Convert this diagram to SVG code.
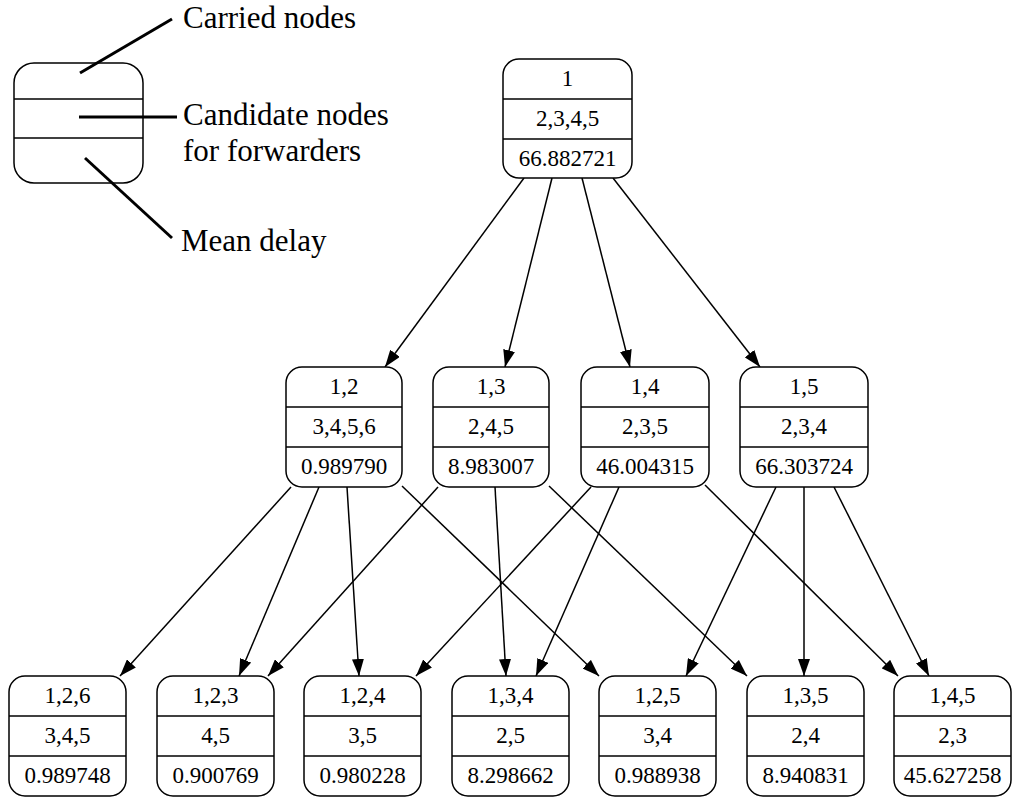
<svg xmlns="http://www.w3.org/2000/svg" width="1013" height="799" viewBox="0 0 1013 799">
<style>
.box{fill:#fff;stroke:#000;stroke-width:1.5}
.div{stroke:#000;stroke-width:1.5}
.t{font-size:23px;text-anchor:middle;fill:#000}
.lt{font-size:31px;fill:#000}
.lead{stroke:#000;stroke-width:3}
.e{stroke:#000;stroke-width:1.5;fill:none;marker-end:url(#ah)}
</style>
<defs>
<marker id="ah" markerUnits="userSpaceOnUse" viewBox="0 0 17 12" refX="17" refY="6" markerWidth="17" markerHeight="12" orient="auto">
<path d="M0,0 L17,6 L0,12 z" fill="#000"/>
</marker>
</defs>
<rect width="1013" height="799" fill="#fff"/>
<g font-family="'Liberation Serif', Tinos, 'Times New Roman', Times, 'DejaVu Serif', serif">
<g id="legend">
<rect class="box" x="14" y="63" width="129" height="120" rx="20"/>
<line class="div" x1="14" y1="99" x2="143" y2="99"/>
<line class="div" x1="14" y1="138" x2="143" y2="138"/>
<line class="lead" x1="80" y1="73" x2="172" y2="19"/>
<line class="lead" x1="79" y1="117" x2="177" y2="117"/>
<line class="lead" x1="85" y1="158" x2="172" y2="238"/>
<text class="lt" x="183" y="28">Carried nodes</text>
<text class="lt" x="183" y="125">Candidate nodes</text>
<text class="lt" x="183" y="161">for forwarders</text>
<text class="lt" x="181" y="251">Mean delay</text>
</g>
<g id="connectors">
<line class="e" x1="524" y1="178" x2="385" y2="367"/>
<line class="e" x1="552" y1="178" x2="505" y2="367"/>
<line class="e" x1="582" y1="178" x2="630" y2="367"/>
<line class="e" x1="613" y1="178" x2="760" y2="367"/>
<line class="e" x1="291" y1="487" x2="120" y2="676"/>
<line class="e" x1="319" y1="487" x2="239" y2="676"/>
<line class="e" x1="347" y1="487" x2="359" y2="676"/>
<line class="e" x1="402" y1="486" x2="599" y2="676"/>
<line class="e" x1="438" y1="487" x2="268" y2="676"/>
<line class="e" x1="495" y1="487" x2="506" y2="676"/>
<line class="e" x1="549" y1="486" x2="747" y2="676"/>
<line class="e" x1="591" y1="487" x2="416" y2="676"/>
<line class="e" x1="619" y1="487" x2="536" y2="676"/>
<line class="e" x1="705" y1="485" x2="898" y2="676"/>
<line class="e" x1="776" y1="487" x2="686" y2="676"/>
<line class="e" x1="804" y1="487" x2="804" y2="676"/>
<line class="e" x1="834" y1="487" x2="929" y2="676"/>
</g>
<g id="n1">
<rect class="box" x="503" y="59" width="129" height="119" rx="16"/>
<line class="div" x1="503" y1="99" x2="632" y2="99"/>
<line class="div" x1="503" y1="139" x2="632" y2="139"/>
<text class="t" x="567.5" y="86">1</text>
<text class="t" x="567.5" y="126">2,3,4,5</text>
<text class="t" x="567.5" y="166">66.882721</text>
</g>
<g id="n12">
<rect class="box" x="286" y="367" width="116" height="120" rx="16"/>
<line class="div" x1="286" y1="407" x2="402" y2="407"/>
<line class="div" x1="286" y1="447" x2="402" y2="447"/>
<text class="t" x="344" y="394">1,2</text>
<text class="t" x="344" y="434">3,4,5,6</text>
<text class="t" x="344" y="474">0.989790</text>
</g>
<g id="n13">
<rect class="box" x="433" y="367" width="116" height="120" rx="16"/>
<line class="div" x1="433" y1="407" x2="549" y2="407"/>
<line class="div" x1="433" y1="447" x2="549" y2="447"/>
<text class="t" x="491" y="394">1,3</text>
<text class="t" x="491" y="434">2,4,5</text>
<text class="t" x="491" y="474">8.983007</text>
</g>
<g id="n14">
<rect class="box" x="581" y="367" width="128" height="120" rx="16"/>
<line class="div" x1="581" y1="407" x2="709" y2="407"/>
<line class="div" x1="581" y1="447" x2="709" y2="447"/>
<text class="t" x="645" y="394">1,4</text>
<text class="t" x="645" y="434">2,3,5</text>
<text class="t" x="645" y="474">46.004315</text>
</g>
<g id="n15">
<rect class="box" x="740" y="367" width="128" height="120" rx="16"/>
<line class="div" x1="740" y1="407" x2="868" y2="407"/>
<line class="div" x1="740" y1="447" x2="868" y2="447"/>
<text class="t" x="804" y="394">1,5</text>
<text class="t" x="804" y="434">2,3,4</text>
<text class="t" x="804" y="474">66.303724</text>
</g>
<g id="n126">
<rect class="box" x="9" y="676" width="117" height="120" rx="16"/>
<line class="div" x1="9" y1="716" x2="126" y2="716"/>
<line class="div" x1="9" y1="756" x2="126" y2="756"/>
<text class="t" x="67.5" y="703">1,2,6</text>
<text class="t" x="67.5" y="743">3,4,5</text>
<text class="t" x="67.5" y="783">0.989748</text>
</g>
<g id="n123">
<rect class="box" x="157" y="676" width="117" height="120" rx="16"/>
<line class="div" x1="157" y1="716" x2="274" y2="716"/>
<line class="div" x1="157" y1="756" x2="274" y2="756"/>
<text class="t" x="215.5" y="703">1,2,3</text>
<text class="t" x="215.5" y="743">4,5</text>
<text class="t" x="215.5" y="783">0.900769</text>
</g>
<g id="n124">
<rect class="box" x="304" y="676" width="117" height="120" rx="16"/>
<line class="div" x1="304" y1="716" x2="421" y2="716"/>
<line class="div" x1="304" y1="756" x2="421" y2="756"/>
<text class="t" x="362.5" y="703">1,2,4</text>
<text class="t" x="362.5" y="743">3,5</text>
<text class="t" x="362.5" y="783">0.980228</text>
</g>
<g id="n134">
<rect class="box" x="452" y="676" width="117" height="120" rx="16"/>
<line class="div" x1="452" y1="716" x2="569" y2="716"/>
<line class="div" x1="452" y1="756" x2="569" y2="756"/>
<text class="t" x="510.5" y="703">1,3,4</text>
<text class="t" x="510.5" y="743">2,5</text>
<text class="t" x="510.5" y="783">8.298662</text>
</g>
<g id="n125">
<rect class="box" x="599" y="676" width="117" height="120" rx="16"/>
<line class="div" x1="599" y1="716" x2="716" y2="716"/>
<line class="div" x1="599" y1="756" x2="716" y2="756"/>
<text class="t" x="657.5" y="703">1,2,5</text>
<text class="t" x="657.5" y="743">3,4</text>
<text class="t" x="657.5" y="783">0.988938</text>
</g>
<g id="n135">
<rect class="box" x="747" y="676" width="117" height="120" rx="16"/>
<line class="div" x1="747" y1="716" x2="864" y2="716"/>
<line class="div" x1="747" y1="756" x2="864" y2="756"/>
<text class="t" x="805.5" y="703">1,3,5</text>
<text class="t" x="805.5" y="743">2,4</text>
<text class="t" x="805.5" y="783">8.940831</text>
</g>
<g id="n145">
<rect class="box" x="894" y="676" width="117" height="120" rx="16"/>
<line class="div" x1="894" y1="716" x2="1011" y2="716"/>
<line class="div" x1="894" y1="756" x2="1011" y2="756"/>
<text class="t" x="952.5" y="703">1,4,5</text>
<text class="t" x="952.5" y="743">2,3</text>
<text class="t" x="952.5" y="783">45.627258</text>
</g>
</g>
</svg>
